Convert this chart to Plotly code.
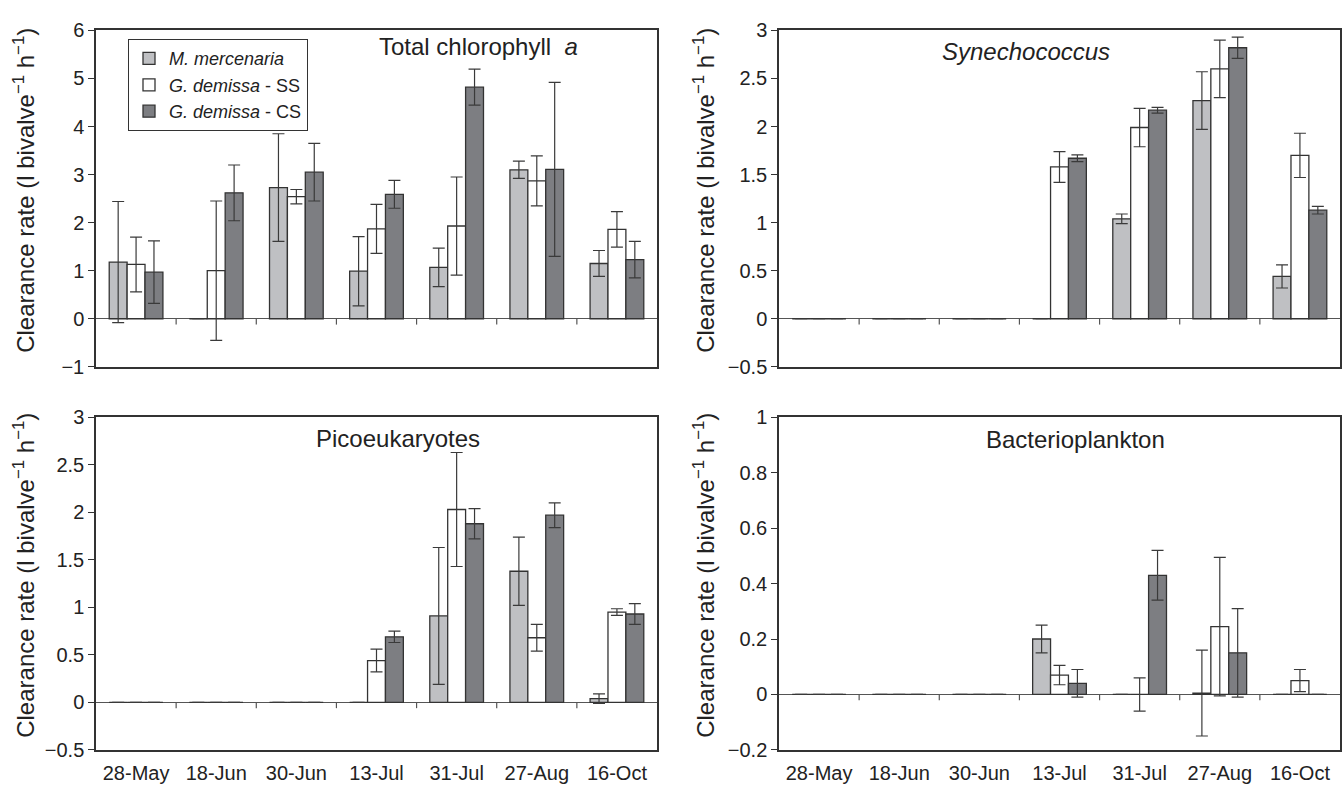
import plotly.graph_objects as go

dates = ["28-May", "18-Jun", "30-Jun", "13-Jul", "31-Jul", "27-Aug", "16-Oct"]
series_names = ["<i>M. mercenaria</i>", "<i>G. demissa</i> - SS", "<i>G. demissa</i> - CS"]
colors = ["#bfc0c3", "#ffffff", "#7d7e82"]

# Total chlorophyll a
chl_mm = [1.18, 0.0, 2.73, 0.99, 1.07, 3.10, 1.15]
chl_mm_err = [1.26, None, 1.12, 0.72, 0.40, 0.18, 0.27]
chl_ss = [1.13, 1.00, 2.54, 1.87, 1.93, 2.87, 1.86]
chl_ss_err = [0.57, 1.45, 0.15, 0.51, 1.02, 0.52, 0.37]
chl_cs = [0.97, 2.62, 3.05, 2.59, 4.82, 3.11, 1.23]
chl_cs_err = [0.65, 0.58, 0.60, 0.29, 0.375, 1.81, 0.38]

# Synechococcus
syn_mm = [0, 0, 0, 0.0, 1.04, 2.27, 0.44]
syn_mm_err = [None, None, None, None, 0.05, 0.30, 0.12]
syn_ss = [0, 0, 0, 1.58, 1.99, 2.60, 1.70]
syn_ss_err = [None, None, None, 0.16, 0.20, 0.30, 0.23]
syn_cs = [0, 0, 0, 1.67, 2.17, 2.82, 1.13]
syn_cs_err = [None, None, None, 0.035, 0.03, 0.11, 0.04]

# Picoeukaryotes
pico_mm = [0, 0, 0, 0.0, 0.91, 1.38, 0.04]
pico_mm_err = [None, None, None, None, 0.72, 0.36, 0.05]
pico_ss = [0, 0, 0, 0.44, 2.03, 0.68, 0.95]
pico_ss_err = [None, None, None, 0.12, 0.60, 0.14, 0.035]
pico_cs = [0, 0, 0, 0.69, 1.88, 1.97, 0.93]
pico_cs_err = [None, None, None, 0.06, 0.16, 0.13, 0.11]

# Bacterioplankton
bact_mm = [0, 0, 0, 0.20, 0.0, 0.005, 0.0]
bact_mm_err = [None, None, None, 0.05, None, 0.155, None]
bact_ss = [0, 0, 0, 0.07, 0.0, 0.245, 0.05]
bact_ss_err = [None, None, None, 0.035, 0.06, 0.25, 0.04]
bact_cs = [0, 0, 0, 0.04, 0.43, 0.15, 0.0]
bact_cs_err = [None, None, None, 0.05, 0.09, 0.16, None]

panels = [
    dict(title="Total chlorophyll  <i>a</i>", vals=[chl_mm, chl_ss, chl_cs],
         errs=[chl_mm_err, chl_ss_err, chl_cs_err], yrange=[-1, 6], dtick=1),
    dict(title="<i>Synechococcus</i>", vals=[syn_mm, syn_ss, syn_cs],
         errs=[syn_mm_err, syn_ss_err, syn_cs_err], yrange=[-0.5, 3], dtick=0.5),
    dict(title="Picoeukaryotes", vals=[pico_mm, pico_ss, pico_cs],
         errs=[pico_mm_err, pico_ss_err, pico_cs_err], yrange=[-0.5, 3], dtick=0.5),
    dict(title="Bacterioplankton", vals=[bact_mm, bact_ss, bact_cs],
         errs=[bact_mm_err, bact_ss_err, bact_cs_err], yrange=[-0.2, 1], dtick=0.2),
]

W, H = 1343, 790
# pixel boxes (left, right, top, bottom)
boxes = [(96, 657, 20, 366), (779, 1340, 20, 366), (96, 657, 418, 760), (779, 1340, 418, 760)]
title_pos = [(478, 37), (1026, 42), (398, 440), (1075, 441)]
ytitle_x = [24, 704, 24, 704]

FONT = "Liberation Sans, Arial, sans-serif"
TXT = "#222222"
fig = go.Figure()
layout = dict()
annotations = []
shapes = []

for k, p in enumerate(panels):
    ax = "" if k == 0 else str(k + 1)
    xa, ya = "x" + ax, "y" + ax
    for s in range(3):
        err = p["errs"][s]
        fig.add_trace(go.Bar(
            x=dates, y=p["vals"][s], name=series_names[s],
            marker=dict(color=colors[s], line=dict(color="#333333", width=1.3)),
            error_y=dict(type="data", array=[e if e is not None else float("nan") for e in err],
                         visible=True, color="#3a3a3a", thickness=1.2, width=6),
            xaxis=xa, yaxis=ya, showlegend=(k == 0), offsetgroup=str(s),
        ))
    l, r, t, b = boxes[k]
    dom_x = [l / W, r / W]
    dom_y = [1 - b / H, 1 - t / H]
    layout["xaxis" + ax] = dict(
        domain=dom_x, anchor=ya, type="category", range=[-0.5, 6.5],
        showline=True, mirror=True, linecolor="#333333", linewidth=1.5,
        ticks="outside", ticklen=4, tickcolor="rgba(0,0,0,0)",
        showgrid=False, showticklabels=(k >= 2),
        tickfont=dict(family=FONT, size=20, color=TXT),
    )
    layout["yaxis" + ax] = dict(
        domain=dom_y, anchor=xa, range=p["yrange"], dtick=p["dtick"],
        showline=True, mirror=True, linecolor="#333333", linewidth=1.5,
        ticks="outside", ticklen=6, tickcolor="#333333", showgrid=False,
        zeroline=True, zerolinecolor="#555555", zerolinewidth=1.2,
        tickfont=dict(family=FONT, size=20, color=TXT),
    )
    # category separator ticks at the zero line
    y0, y1 = p["yrange"]
    zfrac = (0 - y0) / (y1 - y0)
    tlen = 6 / (b - t)
    for i in range(len(dates) - 1):
        shapes.append(dict(type="line", xref=xa, yref=ya + " domain",
                           x0=i + 0.5, x1=i + 0.5, y0=zfrac, y1=zfrac - tlen,
                           line=dict(color="#555555", width=1.2)))
    tx, ty = title_pos[k]
    annotations.append(dict(text=p["title"], x=tx / W, y=1 - ty / H, xref="paper", yref="paper",
                            showarrow=False, xanchor="center", yanchor="middle",
                            font=dict(family=FONT, size=24, color=TXT)))
    annotations.append(dict(text="Clearance rate (l bivalve<sup>−1</sup> h<sup>−1</sup>)",
                            x=ytitle_x[k] / W, y=1 - ((t + b) / 2 - 8) / H, xref="paper", yref="paper",
                            showarrow=False, textangle=-90, xanchor="center", yanchor="middle",
                            font=dict(family=FONT, size=24, color=TXT)))

fig.update_layout(
    **layout,
    width=W, height=H, margin=dict(l=0, r=0, t=0, b=0),
    paper_bgcolor="white", plot_bgcolor="white",
    barmode="group", bargap=0.33, bargroupgap=0,
    annotations=annotations, shapes=shapes,
    legend=dict(x=128 / W, y=1 - 29 / H, xanchor="left", yanchor="top",
                bordercolor="#333333", borderwidth=1, bgcolor="white",
                font=dict(family=FONT, size=18, color=TXT),
                tracegroupgap=0, itemwidth=30),
    font=dict(family=FONT),
)

fig.write_html("out.html")
